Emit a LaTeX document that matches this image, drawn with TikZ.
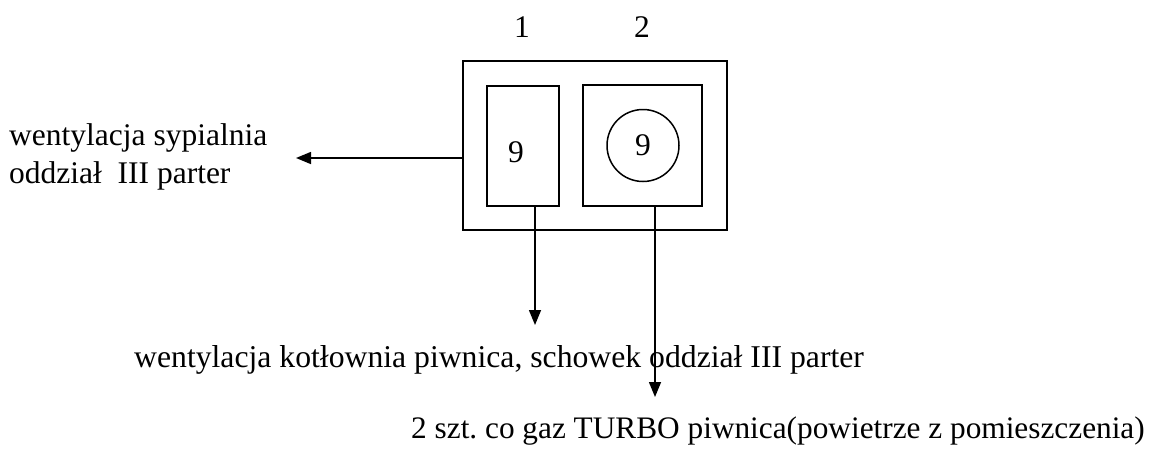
\documentclass[tikz,border=0pt]{standalone}
\usepackage{fontspec}
\setmainfont{Liberation Serif}
\usetikzlibrary{arrows.meta}
\frenchspacing
\begin{document}
\begin{tikzpicture}[x=1pt,y=-1pt,
  every node/.style={font=\fontsize{31.5}{38}\selectfont},
  box/.style={draw,line width=1.8pt,inner sep=0pt},
  lbl/.style={anchor=base west,inner sep=0pt},
  flow/.style={line width=1.5pt,-{Triangle[length=15pt,width=12pt]}}]
\useasboundingbox (0,0) rectangle (1158,450);
\node[box,minimum width=264pt,minimum height=169pt] (outer) at (595,145.5) {};
\node[box,minimum width=72pt,minimum height=120pt] (left) at (523,146) {};
\node[box,minimum width=119pt,minimum height=121pt] (right) at (642.5,145.5) {};
\node[draw,circle,line width=1.5pt,minimum size=72pt,inner sep=0pt] (circ) at (643,145.5) {9};
\node (nine) at (516,152) {9};
\node (one) at (522,27) {1};
\node (two) at (642,27) {2};
\node[lbl,align=left] (ltext) at (9,183) {wentylacja sypialnia\\oddział\ \ III parter};
\node[lbl,font=\fontsize{31.7}{38}\selectfont] (mtext) at (134,367) {wentylacja kotłownia piwnica, schowek oddział III parter};
\node[lbl,font=\fontsize{31.3}{38}\selectfont] (btext) at (411,438) {2 szt. co gaz TURBO piwnica(powietrze z pomieszczenia)};
\coordinate (lend) at (296,158);
\coordinate (d1) at (535,325);
\coordinate (d2) at (655,397);
\draw[flow] (outer.west |- lend) -- (lend);
\draw[flow] (left.south -| d1) -- (d1);
\draw[flow] (right.south -| d2) -- (d2);
\end{tikzpicture}
\end{document}
